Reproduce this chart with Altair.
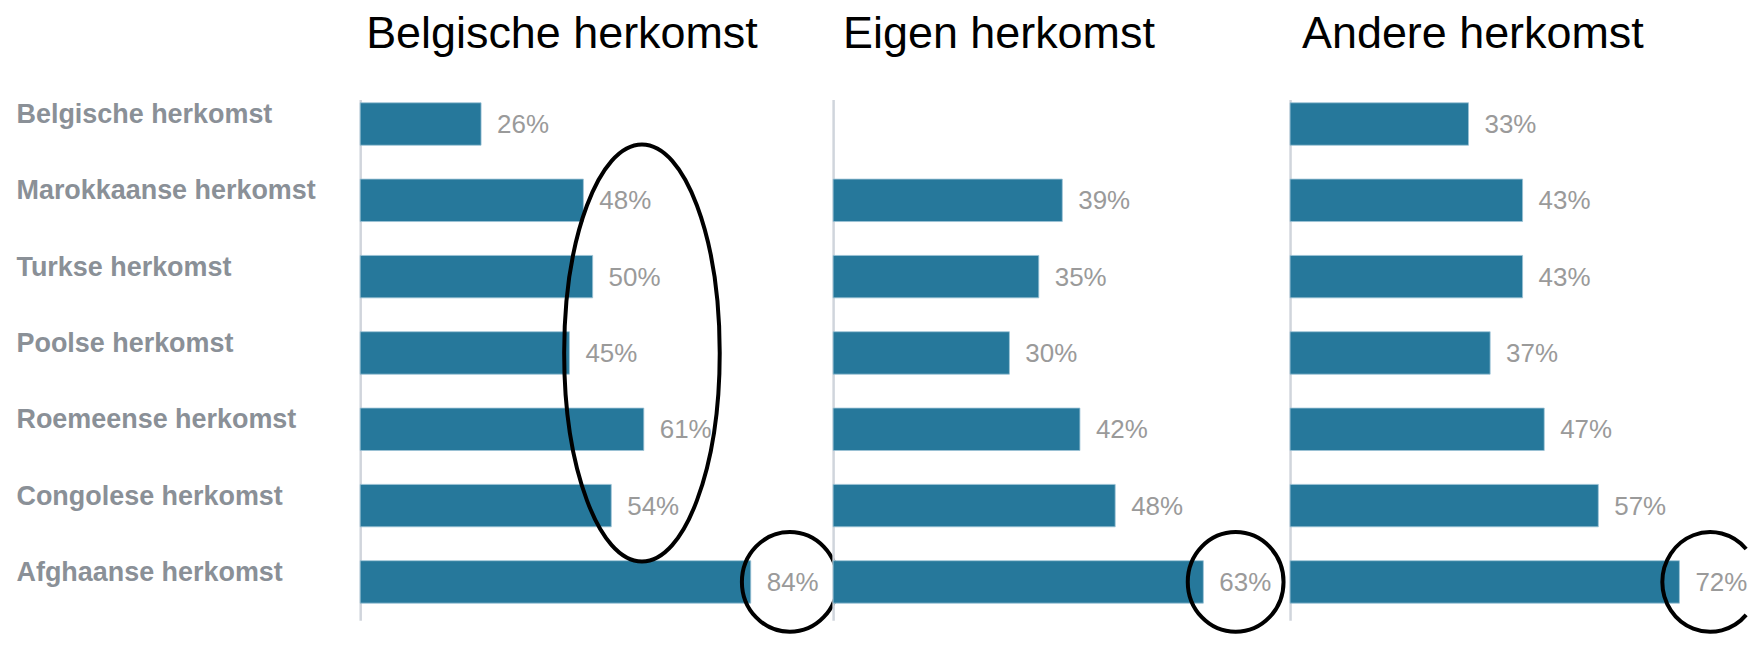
import altair as alt
import pandas as pd

categories = [
    "Belgische herkomst",
    "Marokkaanse herkomst",
    "Turkse herkomst",
    "Poolse herkomst",
    "Roemeense herkomst",
    "Congolese herkomst",
    "Afghaanse herkomst",
]
panel_titles = ["Belgische herkomst", "Eigen herkomst", "Andere herkomst"]
belgische = [26, 48, 50, 45, 61, 54, 84]
eigen = [None, 39, 35, 30, 42, 48, 63]
andere = [33, 43, 43, 37, 47, 57, 72]

# annotation ellipses: panel index, category row, x-centre (in % units)
ann_panel = [0, 0, 1, 2]
ann_cat = ["Poolse herkomst", "Afghaanse herkomst", "Afghaanse herkomst", "Afghaanse herkomst"]
ann_x = [60.6, 92.4, 68.5, 77.7]
ann_kind = ["tall", "round", "round", "cut"]

series = [belgische, eigen, andere]
widths = [474, 458, 459]
px_per_pct = [4.66, 5.89, 5.42]
title_dx = [6, 10, 12]

BAR = "#26789b"
FONT = "Liberation Sans"

shapes = {
    "tall": ("M0,-1 A0.373,1 0 1,1 0,1 A0.373,1 0 1,1 0,-1 Z", 418 ** 2),
    "round": ("M0,-1 A0.96,1 0 1,1 0,1 A0.96,1 0 1,1 0,-1 Z", 100 ** 2),
    # same ellipse, cut off at the right edge of the picture
    "cut": ("M0.72,-0.661 A0.96,1 0 1,0 0.72,0.661", 100 ** 2),
}

panels = []
for i in range(3):
    df = pd.DataFrame({"cat": categories, "val": series[i]}).dropna()
    df["label"] = df["val"].map(lambda v: f"{int(v)}%")
    yscale = alt.Scale(domain=categories, paddingInner=0.444, paddingOuter=0.134, align=0.16)
    xscale = alt.Scale(domain=[0, widths[i] / px_per_pct[i]], nice=False, zero=True)
    if i == 0:
        yaxis = alt.Axis(
            title=None, ticks=False, tickSize=0, labelAlign="left", labelPadding=345,
            labelOffset=-9,
            labelFont=FONT, labelFontSize=27, labelFontWeight="bold", labelColor="#8a9097",
            labelLimit=400, domainColor="#d0d5dc", domainWidth=2.5, grid=False,
        )
    else:
        yaxis = alt.Axis(
            title=None, ticks=False, tickSize=0, labels=False,
            domainColor="#d0d5dc", domainWidth=2.5, grid=False,
        )
    base = alt.Chart(df)
    bars = base.mark_bar(color=BAR, stroke="#9cc3d6", strokeWidth=0.8).encode(
        y=alt.Y("cat:N", scale=yscale, axis=yaxis, sort=categories),
        x=alt.X("val:Q", scale=xscale, axis=None),
    )
    texts = base.mark_text(
        align="left", baseline="middle", dx=16, dy=1, font=FONT, fontSize=26, color="#9a9a9a"
    ).encode(
        y=alt.Y("cat:N", scale=yscale, sort=categories),
        x=alt.X("val:Q", scale=xscale),
        text="label:N",
    )
    layers = [bars, texts]
    for k in range(len(ann_panel)):
        if ann_panel[k] != i:
            continue
        adf = pd.DataFrame({"cat": [ann_cat[k]], "x": [ann_x[k]]})
        shape, size = shapes[ann_kind[k]]
        layers.append(
            alt.Chart(adf).mark_point(
                shape=shape, size=size, filled=False, stroke="black", strokeWidth=4,
                opacity=1,
            ).encode(
                y=alt.Y("cat:N", scale=yscale, sort=categories),
                x=alt.X("x:Q", scale=xscale),
            )
        )
    panel = alt.layer(*layers).properties(
        width=widths[i],
        height=522,
        title=alt.TitleParams(
            panel_titles[i], anchor="start", frame="group", font=FONT, fontSize=45,
            fontWeight="normal", color="black", offset=43, dx=title_dx[i],
        ),
    )
    panels.append(panel)

chart = (
    alt.hconcat(*panels, spacing=0, bounds="flush")
    .properties(
        padding={"left": 8, "top": 3, "right": 0, "bottom": 0},
        background="white",
    )
    .configure_view(strokeWidth=0, stroke="transparent")
)

chart.save("out.html", embed_options={"renderer": "svg", "actions": False})
